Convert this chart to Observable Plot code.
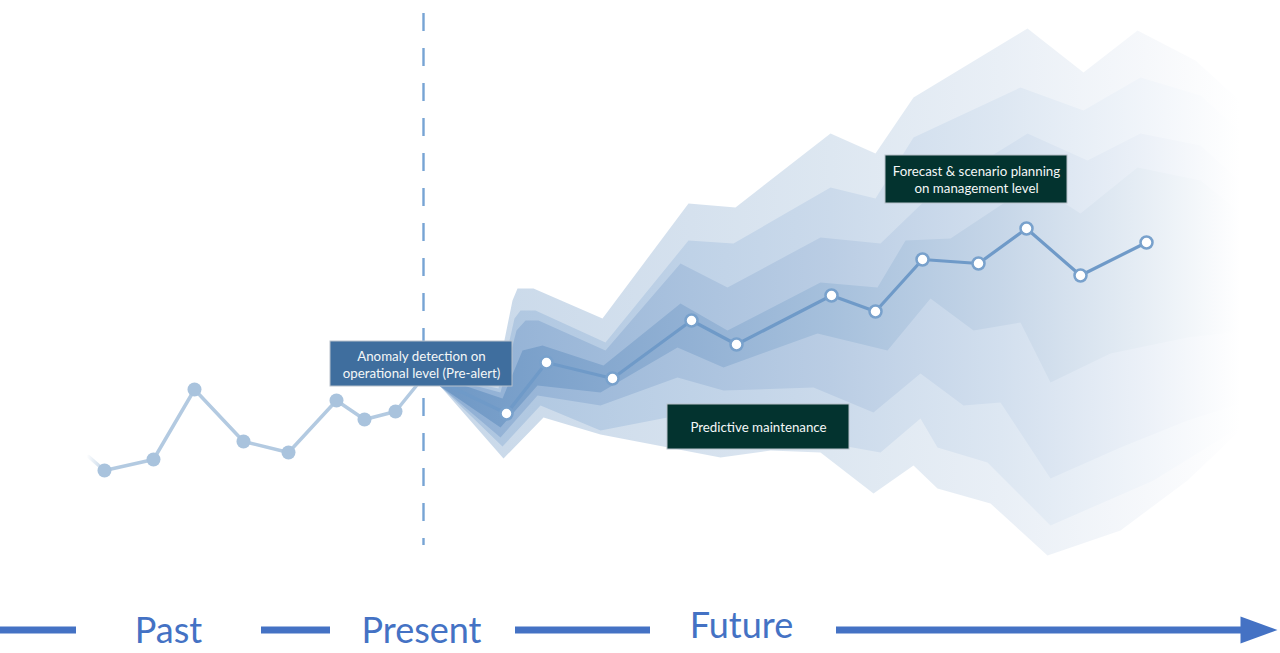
<!DOCTYPE html>
<html>
<head>
<meta charset="utf-8">
<script src="https://cdn.jsdelivr.net/npm/d3@7"></script>
<script src="https://cdn.jsdelivr.net/npm/@observablehq/plot@0.6"></script>
<style>
  html, body { margin: 0; padding: 0; background: #fff; }
  #chart { width: 1280px; height: 653px; overflow: hidden; }
</style>
</head>
<body>
<div id="chart"></div>
<script>
const pastLead = [88, 456];                 // line fading in from the left edge
const pastT = [104, 153, 194, 243, 288, 336, 364, 395];
const pastV = [470, 459, 389, 441, 452, 400, 419, 411];
const present = [425, 374];                 // junction of past and forecast

const forecastT = [506, 546, 612, 691, 736, 831, 875, 922, 978, 1026, 1080, 1146];
const forecastV = [413, 362, 378, 320, 344, 295, 311, 259, 263, 228, 275, 242];

// uncertainty fan: four nested bands (outer A .. inner D), upper and lower edges as [t, v]
const bandATop = [[425,372],[495,384],[512,300],[517,288],[533,288],[602,318],[688,203],[735,207],[830,133],[875,153],[913,97],[1027,28],[1083,72],[1137,30],[1195,60],[1250,110]];
const bandABottom = [[425,376],[440,386],[503,458],[543,417],[600,434],[720,457],[770,450],[820,452],[873,493],[913,465],[937,488],[990,503],[1047,555],[1120,530],[1187,480],[1250,420]];
const bandBTop = [[425,372],[498,388],[514,318],[520,310],[535,310],[605,342],[688,240],[733,243],[830,187],[875,198],[913,137],[1020,87],[1083,110],[1140,77],[1200,95],[1250,140]];
const bandBBottom = [[425,376],[440,386],[502,446],[540,405],[600,430],[667,417],[760,425],[813,440],[880,452],[920,418],[937,447],[987,462],[1050,525],[1153,480],[1250,420]];
const bandCTop = [[425,372],[500,392],[516,330],[525,320],[538,320],[605,350],[680,263],[727,287],[820,237],[880,243],[935,190],[1027,133],[1087,160],[1140,133],[1200,145],[1250,190]];
const bandCBottom = [[425,376],[440,386],[500,437],[537,395],[600,405],[677,377],[723,390],[813,387],[873,412],[920,373],[963,405],[1000,402],[1050,478],[1120,447],[1187,420],[1250,400]];
const bandDTop = [[425,372],[502,398],[522,350],[542,345],[603,365],[680,303],[727,330],[820,282],[877,287],[905,240],[950,238],[1033,183],[1080,213],[1137,167],[1200,180],[1250,220]];
const bandDBottom = [[425,376],[440,386],[500,427],[537,385],[600,392],[677,347],[723,367],[817,333],[887,350],[930,298],[973,330],[1020,322],[1050,382],[1110,353],[1187,337],[1250,330]];

// annotations
const noteText = ["Anomaly detection on\noperational level (Pre-alert)", "Predictive maintenance", "Forecast & scenario planning\non management level"];
const noteT1 = [330, 667, 885];
const noteT2 = [512, 849, 1067];
const noteV1 = [341, 404, 155];
const noteV2 = [386, 449, 203];

// present marker and time axis
const presentMarkerT = 423;
const presentMarkerV = [13, 545];
const phaseLabels = ["Past", "Present", "Future"];
const phaseT = [168, 421, 741];
const phaseV = [631, 631, 626];
const timelineLevel = 629.5;
const timelineSegments = [[0, 76], [261, 330], [515, 650], [836, 1242]];
const arrowHead = [[1240, 616], [1277, 629.5], [1240, 643]];

// ---------- styles ----------
const bandColors = ["#c8d8e9", "#abc4df", "#8fafd4", "#7099c6"];
const fadeStops = [[0, 0], [0.304, 0.24], [0.482, 0.38], [0.696, 0.6], [0.881, 0.83], [1, 1]];
const noteFills = ["#3f6e9e", "#03332f", "#03332f"];

// ---------- build tables ----------
const past = [pastLead, ...pastT.map((t, i) => [t, pastV[i]]), present];
const pastDots = pastT.map((t, i) => [t, pastV[i]]);
const forecast = [present, ...forecastT.map((t, i) => [t, forecastV[i]])];
const forecastDots = forecastT.map((t, i) => [t, forecastV[i]]);
const polygon = (top, bottom) => [...top, ...bottom.slice().reverse()];
const bands = [
  polygon(bandATop, bandABottom),
  polygon(bandBTop, bandBBottom),
  polygon(bandCTop, bandCBottom),
  polygon(bandDTop, bandDBottom)
];
const notes = noteText.map((text, i) => ({text, t1: noteT1[i], t2: noteT2[i], v1: noteV1[i], v2: noteV2[i]}));
const phases = phaseLabels.map((text, i) => ({text, t: phaseT[i], v: phaseV[i]}));

// gradient definitions (fade of the fan to the right, fade-in of the past line on the left)
const defs = () => {
  const d = d3.create("svg:defs");
  bandColors.forEach((c, i) => {
    const g = d.append("linearGradient").attr("id", "band" + i)
      .attr("gradientUnits", "userSpaceOnUse")
      .attr("x1", 450).attr("x2", 1240).attr("y1", 0).attr("y2", 0);
    fadeStops.forEach(([o, f]) => g.append("stop").attr("offset", o).attr("stop-color", d3.interpolateRgb(c, "#ffffff")(f)));
  });
  const p = d.append("linearGradient").attr("id", "pastFade")
    .attr("gradientUnits", "userSpaceOnUse")
    .attr("x1", 86).attr("x2", 108).attr("y1", 0).attr("y2", 0);
  p.append("stop").attr("offset", 0).attr("stop-color", "#b3cae1").attr("stop-opacity", 0);
  p.append("stop").attr("offset", 1).attr("stop-color", "#b3cae1").attr("stop-opacity", 1);
  return d.node();
};

const font = "Lato, 'Open Sans', sans-serif";

const chart = Plot.plot({
  width: 1280,
  height: 653,
  margin: 0,
  x: {domain: [0, 1280], range: [0, 1280], axis: null},
  y: {domain: [0, 653], range: [0, 653], axis: null},
  style: {background: "#ffffff", fontFamily: font},
  marks: [
    defs,
    ...bands.map((b, i) => Plot.line(b, {x: d => d[0], y: d => d[1], fill: `url(#band${i})`, stroke: "none", curve: "linear"})),
    Plot.ruleX([presentMarkerT], {x: d => d, y1: () => presentMarkerV[0], y2: () => presentMarkerV[1], stroke: "#77a4d4", strokeWidth: 2.4, strokeDasharray: "18,17"}),
    Plot.line(past, {x: d => d[0], y: d => d[1], stroke: "url(#pastFade)", strokeWidth: 3.5}),
    Plot.dot(pastDots, {x: d => d[0], y: d => d[1], r: 7, fill: "#a9c3dd", stroke: "none"}),
    Plot.line(forecast, {x: d => d[0], y: d => d[1], stroke: "#6f9ac8", strokeWidth: 3.2}),
    Plot.dot(forecastDots, {x: d => d[0], y: d => d[1], r: 6, fill: "#ffffff", stroke: "#78a1cc", strokeWidth: 2.5}),
    ...notes.map((n, i) => Plot.rect([n], {x1: "t1", x2: "t2", y1: "v1", y2: "v2", fill: noteFills[i], stroke: "#b9c2cc", strokeWidth: 1})),
    Plot.text(notes, {x: d => (d.t1 + d.t2) / 2, y: d => (d.v1 + d.v2) / 2, text: "text", fill: "#f4f7f7", fontSize: 13.3, lineHeight: 1.28, fontFamily: font}),
    Plot.ruleY(timelineSegments, {y: () => timelineLevel, x1: d => d[0], x2: d => d[1], stroke: "#4472c4", strokeWidth: 7}),
    Plot.line(arrowHead, {x: d => d[0], y: d => d[1], fill: "#4472c4", stroke: "none"}),
    Plot.text(phases, {x: "t", y: "v", text: "text", fill: "#4472c4", fontSize: 36, fontFamily: font})
  ]
});

document.getElementById("chart").append(chart);
</script>
</body>
</html>
